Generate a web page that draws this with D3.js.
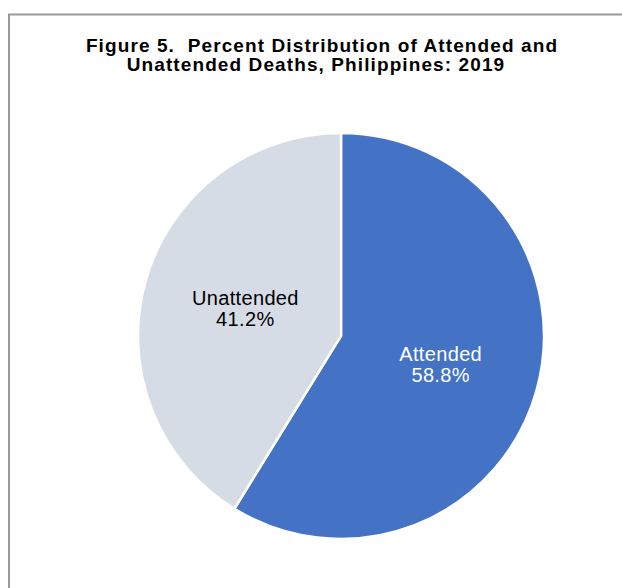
<!DOCTYPE html>
<html><head><meta charset="utf-8">
<script src="https://cdn.jsdelivr.net/npm/d3@7"></script>
<style>body{margin:0;background:#fff}svg{display:block}</style>
</head><body>
<script>
const categories = ["Attended", "Unattended"];
const values = [58.8, 41.2];
const colors = ["#4472C4", "#D6DCE5"];
const labelColors = ["#FFFFFF", "#000000"];
const titleLines = ["Figure 5.  Percent Distribution of Attended and", "Unattended Deaths, Philippines: 2019"];

const W = 622, H = 588;
const svg = d3.select("body").append("svg").attr("width", W).attr("height", H);
svg.append("rect").attr("x", 9).attr("y", 14.5).attr("width", 640).attr("height", 600)
  .attr("fill", "#fff").attr("stroke", "#9a9a9a").attr("stroke-width", 2);

const titleX = [322, 316];
svg.append("text").attr("y", 52).attr("text-anchor", "middle")
  .attr("font-family", "Liberation Sans, Arial, sans-serif").attr("font-weight", "bold")
  .attr("font-size", 19).attr("letter-spacing", 1.1).style("white-space", "pre")
  .selectAll("tspan").data(titleLines).join("tspan")
  .attr("x", (d, i) => titleX[i]).attr("dy", (d, i) => i ? 19 : 0).text(d => d);

const cx = 341, cy = 336, r = 203;
const g = svg.append("g").attr("transform", `translate(${cx},${cy})`);
const pie = d3.pie().sort(null).value(d => d.v);
const data = categories.map((c, i) => ({c, v: values[i], i}));
const arcs = pie(data);
const arc = d3.arc().innerRadius(0).outerRadius(r);
g.selectAll("path").data(arcs).join("path").attr("d", arc)
  .attr("fill", d => colors[d.data.i]).attr("stroke", "#fff").attr("stroke-width", 2.5)
  .attr("stroke-linejoin", "miter");
const labelArc = d3.arc().innerRadius(r * 0.5).outerRadius(r * 0.5);
const lbl = g.selectAll("text.l").data(arcs).join("text").attr("class", "l")
  .attr("transform", d => { const [x, y] = labelArc.centroid(d); return `translate(${x + 2},${y})`; })
  .attr("text-anchor", "middle").attr("font-family", "Liberation Sans, Arial, sans-serif")
  .attr("font-size", 20).attr("letter-spacing", 0.35).attr("fill", d => labelColors[d.data.i]);
lbl.append("tspan").attr("x", 0).attr("dy", -3).text(d => d.data.c);
lbl.append("tspan").attr("x", 0).attr("dy", 21).text(d => d3.format(".1f")(d.data.v) + "%");
</script>
</body></html>
